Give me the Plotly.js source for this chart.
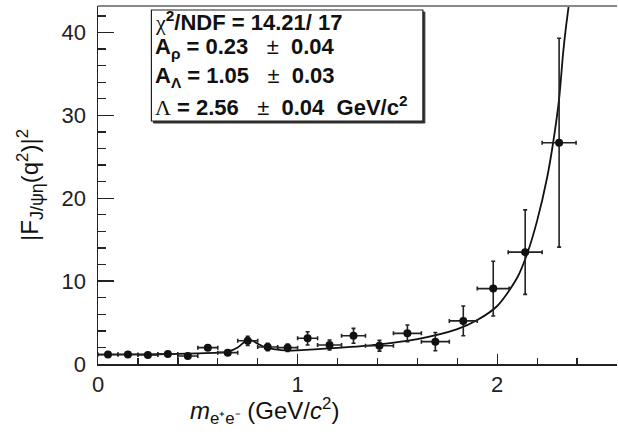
<!DOCTYPE html>
<html>
<head>
<meta charset="utf-8">
<script src="https://cdn.plot.ly/plotly-3.0.1.min.js"></script>
<style>
html,body{margin:0;padding:0;background:#fff;}
#chart{width:618px;height:435px;}
</style>
</head>
<body>
<div id="chart"></div>
<script>
// Measured points (bin centre, value, errors)
const massX = [0.05,0.15,0.25,0.35,0.45,0.55,0.65,0.75,0.85,0.95,1.05,1.16,1.28,1.41,1.55,1.69,1.83,1.98,2.14,2.31];
const formFactor = [1.15,1.15,1.1,1.2,0.97,1.97,1.37,2.8,2.05,1.97,3.1,2.3,3.4,2.2,3.7,2.7,5.2,9.1,13.5,26.7];
const errY = [0.2,0.2,0.2,0.25,0.25,0.3,0.3,0.55,0.45,0.45,0.8,0.6,0.9,0.65,1.0,1.1,1.8,3.3,5.1,12.6];
const errX = [0.05,0.05,0.05,0.05,0.05,0.05,0.05,0.05,0.05,0.05,0.05,0.06,0.06,0.07,0.07,0.07,0.07,0.08,0.085,0.085];

// Fit curve
const fitX = [0,0.2,0.4,0.5,0.6,0.65,0.7,0.74,0.77,0.8,0.84,0.88,0.95,1.0,1.2,1.4,1.6,1.8,1.9,2.0,2.1,2.15,2.2,2.25,2.28,2.31,2.33,2.345,2.36,2.38];
const fitY = [1.12,1.15,1.22,1.28,1.38,1.5,2.0,2.75,2.85,2.45,2.0,1.8,1.62,1.65,1.95,2.35,3.0,4.2,5.3,7.0,10.4,13.3,17.3,22.5,26.7,32,37.5,40.8,43.6,48];

// Fit result box lines
const SP3 = "\u00a0\u00a0\u00a0", SP2 = "\u00a0\u00a0";
const fitLabels = [
  "<span style='font-family:Liberation Serif'>χ</span><b><sup>2</sup>/NDF = 14.21/ 17</b>",
  "<b>A<sub>ρ</sub> = 0.23</b>" + SP3 + "±" + SP2 + "<b>0.04</b>",
  "<b>A<sub>Λ</sub> = 1.05</b>" + SP3 + "±" + SP2 + "<b>0.03</b>",
  "<span style='font-family:Liberation Serif'>Λ</span><b>\u00a0= 2.56</b>" + SP3 + "±" + SP2 + "<b>0.04" + SP2 + "GeV/c<sup>2</sup></b>"
];
const xTickVals = [0,1,2];
const yTickVals = [0,10,20,30,40];

const L = 97.5, T = 6, PW = 520, PH = 358;
const px = v => (v - L) / PW;
const py = v => (T + PH - v) / PH;

const lineYs = [21, 48, 77, 106];

const traces = [
  {
    x: fitX, y: fitY, type: 'scatter', mode: 'lines',
    line: {color: '#111', width: 1.8, shape: 'spline', smoothing: 0.8},
    hoverinfo: 'skip', showlegend: false
  },
  {
    x: massX, y: formFactor, type: 'scatter', mode: 'markers',
    marker: {color: '#111', size: 8},
    error_x: {type: 'data', array: errX, visible: true, color: '#222', thickness: 1.6, width: 2},
    error_y: {type: 'data', array: errY, visible: true, color: '#222', thickness: 1.6, width: 2},
    showlegend: false
  }
];

const annotations = fitLabels.map((t, i) => ({
  xref: 'paper', yref: 'paper', x: px(153), y: py(lineYs[i]),
  xanchor: 'left', yanchor: 'middle', showarrow: false,
  text: t, font: {family: 'Liberation Sans, Arial, sans-serif', size: 22, color: '#111'}
}));
annotations.push({
  xref: 'paper', yref: 'paper', x: px(264), y: py(411),
  xanchor: 'center', yanchor: 'middle', showarrow: false,
  text: "<i>m</i><sub>e⁺e⁻</sub> (GeV/<i>c</i><sup>2</sup>)",
  font: {family: 'Liberation Sans, Arial, sans-serif', size: 24, color: '#111'}
});

const shapes = [
  // shadow
  {type: 'rect', xref: 'paper', yref: 'paper', x0: px(153), x1: px(425), y0: py(123), y1: py(12),
   line: {color: '#333', width: 1}, fillcolor: '#333', layer: 'above'},
  {type: 'rect', xref: 'paper', yref: 'paper', x0: px(151), x1: px(423), y0: py(121), y1: py(10),
   line: {color: '#222', width: 1.2}, fillcolor: '#fff', layer: 'above'},
  // top frame line
  {type: 'line', xref: 'paper', yref: 'paper', x0: 0, x1: 1, y0: 1, y1: 1,
   line: {color: '#888', width: 2}}
];

const layout = {
  width: 618, height: 435,
  margin: {l: 97.5, r: 0.5, t: 6, b: 71},
  paper_bgcolor: '#fff', plot_bgcolor: '#fff',
  font: {family: 'Liberation Sans, Arial, sans-serif', size: 21, color: '#111'},
  xaxis: {
    range: [0, 2.6], tickvals: xTickVals, ticktext: xTickVals.map(String),
    ticks: 'inside', ticklen: 10, tickwidth: 1.3, tickcolor: '#222',
    minor: {dtick: 0.2, tick0: 0, ticks: 'inside', ticklen: 6, tickwidth: 1.3, tickcolor: '#222'},
    showgrid: false, zeroline: false, showline: true, linecolor: '#222', linewidth: 1.5,
    tickfont: {size: 22, color: '#222'}, ticklabelstandoff: 0
  },
  yaxis: {
    range: [0, 43.2], tickvals: yTickVals, ticktext: yTickVals.map(String),
    ticks: 'inside', ticklen: 16, tickwidth: 1.3, tickcolor: '#222',
    minor: {dtick: 2, tick0: 0, ticks: 'inside', ticklen: 8, tickwidth: 1.3, tickcolor: '#222'},
    showgrid: false, zeroline: false, showline: true, linecolor: '#222', linewidth: 1.5,
    tickfont: {size: 22, color: '#222'}, ticklabelstandoff: 6,
    title: {text: "|F<sub><span style='font-size:18px'>J/ψη</span></sub>(q<sup>2</sup>)|<sup>2</sup>", font: {size: 24, color: '#111'}, standoff: 16}
  },
  annotations: annotations,
  shapes: shapes,
  showlegend: false
};

Plotly.newPlot('chart', traces, layout, {displayModeBar: false, staticPlot: true});
</script>
</body>
</html>
